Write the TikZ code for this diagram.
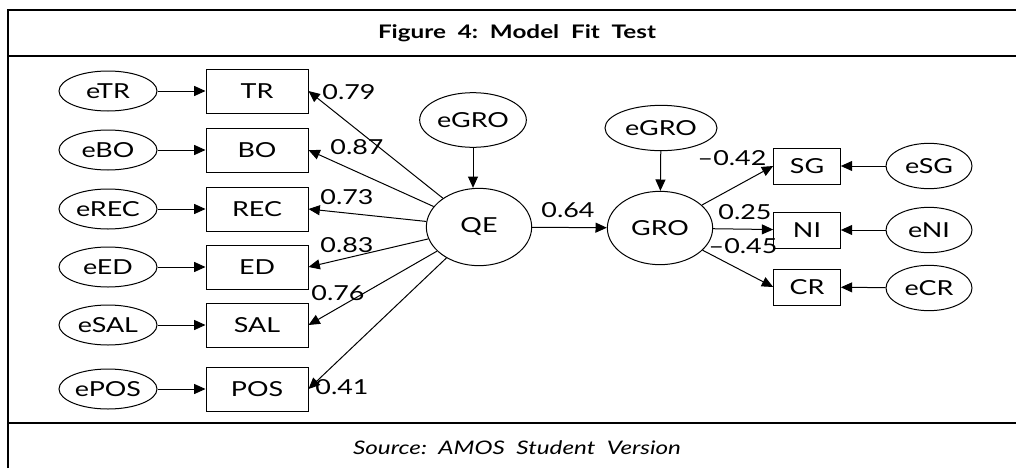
\documentclass[tikz,border=0pt]{standalone}
\usepackage{fontspec}
\setmainfont{Lato}[FakeStretch=1.3]
\usetikzlibrary{shapes.geometric}
\usetikzlibrary{arrows.meta}
\newcommand{\lblfont}{\fontsize{15.5}{17}\selectfont}

\begin{document}
\begin{tikzpicture}[x=0.75pt, y=-0.75pt,
  frame/.style={line width=1pt},
  obs/.style={rectangle, draw, line width=0.75pt, inner sep=0pt,
    minimum width=76.5pt, minimum height=33pt, font=\lblfont},
  obsr/.style={obs, minimum width=50pt, minimum height=27pt},
  err/.style={ellipse, draw, line width=0.75pt, inner sep=0pt,
    minimum width=73.5pt, minimum height=30pt, font=\lblfont},
  errr/.style={err, minimum width=64.5pt, minimum height=34pt},
  lat/.style={ellipse, draw, line width=0.75pt, inner sep=0pt,
    minimum width=79pt, minimum height=58pt, font=\lblfont},
  coef/.style={inner sep=0pt, font=\lblfont},
  arr/.style={-{Triangle[length=8.5pt,width=7.5pt]}, line width=0.75pt}
]
  \useasboundingbox (0,0) rectangle (1016,468);
  % frame
  \draw[frame] (8,468) -- (8,10) -- (1016,10);
  \draw[frame] (8,56) -- (1016,56);
  \draw[frame] (8,423) -- (1016,423);
  \node[font=\fontsize{14}{16}\selectfont\bfseries] (title) at (517,33)
    {Figure\ \ 4:\ \ Model\ \ Fit\ \ Test};
  \node[font=\fontsize{14}{16}\selectfont\itshape] (src) at (517,448)
    {Source:\ \ AMOS\ \ Student\ \ Version};

  % indicators of QE
  \node[err] (etr)  at (108,91)  {eTR};
  \node[err] (ebo)  at (108,150) {eBO};
  \node[err] (erec) at (108,209) {eREC};
  \node[err] (eed)  at (108,267) {eED};
  \node[err] (esal) at (108,325) {eSAL};
  \node[err] (epos) at (108,389) {ePOS};
  \node[obs] (tr)  at (257,91)  {TR};
  \node[obs] (bo)  at (257,150) {BO};
  \node[obs] (rec) at (257,209) {REC};
  \node[obs] (ed)  at (257,267) {ED};
  \node[obs] (sal) at (257,325) {SAL};
  \node[obs] (pos) at (257,389) {POS};

  % latent variables
  \node[lat] (qe)    at (479,227) {QE};
  \node[lat, minimum width=80pt, minimum height=41pt] (egroa) at (473,120) {eGRO};
  \node[lat, minimum height=55pt] (gro) at (660,228) {GRO};
  \node[lat, minimum width=84pt, minimum height=34pt] (egrob) at (661,128) {eGRO};

  % indicators of GRO
  \node[obsr] (sg) at (807,166) {SG};
  \node[obsr] (ni) at (807,230) {NI};
  \node[obsr] (cr) at (807,287) {CR};
  \node[errr] (esg) at (929,166) {eSG};
  \node[errr] (eni) at (929,230) {eNI};
  \node[errr] (ecr) at (929,288) {eCR};

  \draw[arr] (etr)  -- (tr);
  \draw[arr] (ebo)  -- (bo);
  \draw[arr] (erec) -- (rec);
  \draw[arr] (eed)  -- (ed);
  \draw[arr] (esal) -- (sal);
  \draw[arr] (epos) -- (pos);
  \draw[arr] (qe) -- (tr.east);
  \draw[arr] (qe) -- (bo.east);
  \draw[arr] (qe) -- (rec.east);
  \draw[arr] (qe) -- (ed.east);
  \draw[arr] (qe) -- (sal.east);
  \draw[arr] (qe) -- (pos.east);
  \draw[arr] (egroa) -- (egroa |- qe.north);
  \draw[arr] (qe) -- (gro);
  \draw[arr] (egrob) -- (gro);
  \draw[arr] (gro) -- (sg.west);
  \draw[arr] (gro) -- (ni);
  \draw[arr] (gro) -- (cr.west);
  \draw[arr] (esg) -- (sg);
  \draw[arr] (eni) -- (ni);
  \draw[arr] (ecr) -- (cr);

  % path coefficients
  \node[coef] (c1) at (349,92)  {0.79};
  \node[coef] (c2) at (357,147) {0.87};
  \node[coef] (c3) at (347,197) {0.73};
  \node[coef] (c4) at (347,245) {0.83};
  \node[coef] (c5) at (338,293) {0.76};
  \node[coef] (c6) at (342,387) {0.41};
  \node[coef] (c7) at (568,210) {0.64};
  \node[coef] (c8) at (732,158) {–0.42};
  \node[coef] (c9) at (745,212) {0.25};
  \node[coef] (c10) at (743,246) {–0.45};
\end{tikzpicture}
\end{document}
